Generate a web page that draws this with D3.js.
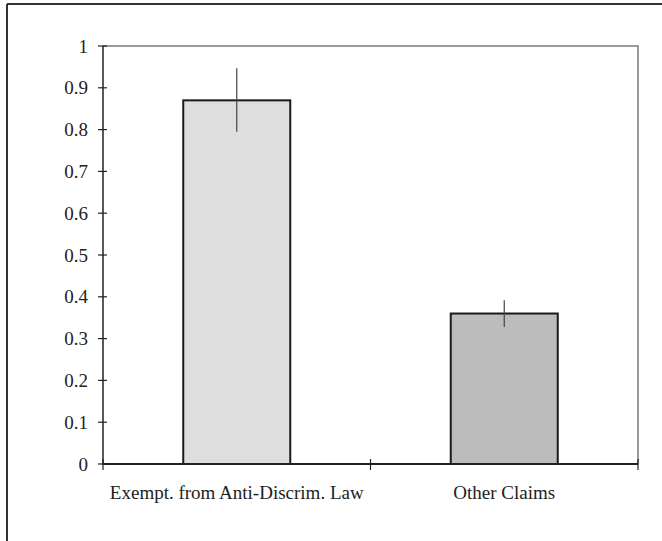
<!DOCTYPE html>
<html>
<head>
<meta charset="utf-8">
<script src="https://cdn.jsdelivr.net/npm/d3@7/dist/d3.min.js"></script>
<style>
  html, body { margin: 0; padding: 0; background: #fff; }
  svg { display: block; }
  text { font-family: "Liberation Serif", "DejaVu Serif", serif; fill: #222; }
</style>
</head>
<body>
<svg id="chart" width="662" height="541"></svg>
<script>
// Proportions by claim type, with error bar bounds
const categories = ["Exempt. from Anti-Discrim. Law", "Other Claims"];
const values = [0.87, 0.36];
const errLow = [0.795, 0.328];
const errHigh = [0.947, 0.392];
const fills = ["#dedede", "#bcbcbc"];
const yTicks = [0, 0.1, 0.2, 0.3, 0.4, 0.5, 0.6, 0.7, 0.8, 0.9, 1];
const yTickLabels = ["0", "0.1", "0.2", "0.3", "0.4", "0.5", "0.6", "0.7", "0.8", "0.9", "1"];

const svg = d3.select("#chart");
const margin = { left: 103, right: 24, top: 46, bottom: 77 };
const W = 662, H = 541;
const x0 = margin.left, x1 = W - margin.right;
const y0 = H - margin.bottom, y1 = margin.top;

// Outer frame (top and left edges)
svg.append("line").attr("x1", 7).attr("x2", W).attr("y1", 4).attr("y2", 4)
  .attr("stroke", "#333").attr("stroke-width", 2);
svg.append("line").attr("x1", 7).attr("x2", 7).attr("y1", 4).attr("y2", H)
  .attr("stroke", "#333").attr("stroke-width", 2);

const x = d3.scaleBand().domain(categories).range([x0, x1])
  .paddingInner(0.6).paddingOuter(0.3);
const y = d3.scaleLinear().domain([0, 1]).range([y0, y1]);

// Plot area border (top and right)
svg.append("path")
  .attr("d", `M${x0},${y1}H${x1}V${y0}`)
  .attr("fill", "none").attr("stroke", "#7a7a7a").attr("stroke-width", 1.5);

// Bars
const g = svg.append("g");
g.selectAll("rect.bar").data(categories).join("rect")
  .attr("class", "bar")
  .attr("x", d => x(d))
  .attr("width", x.bandwidth())
  .attr("y", (d, i) => y(values[i]))
  .attr("height", (d, i) => y(0) - y(values[i]))
  .attr("fill", (d, i) => fills[i])
  .attr("stroke", "#1a1a1a").attr("stroke-width", 2);

// Error bars
g.selectAll("line.err").data(categories).join("line")
  .attr("class", "err")
  .attr("x1", d => x(d) + x.bandwidth() / 2)
  .attr("x2", d => x(d) + x.bandwidth() / 2)
  .attr("y1", (d, i) => y(errHigh[i]))
  .attr("y2", (d, i) => y(errLow[i]))
  .attr("stroke", "#444").attr("stroke-width", 1.2);

// Y axis with crossing ticks
const yAxis = svg.append("g");
yAxis.append("line").attr("x1", x0).attr("x2", x0).attr("y1", y1).attr("y2", y0)
  .attr("stroke", "#222").attr("stroke-width", 1.5);
yAxis.selectAll("line.tick").data(yTicks).join("line")
  .attr("class", "tick")
  .attr("x1", x0 - 5).attr("x2", x0 + 4)
  .attr("y1", d => y(d)).attr("y2", d => y(d))
  .attr("stroke", "#222").attr("stroke-width", 1.2);
yAxis.selectAll("text").data(yTicks).join("text")
  .attr("x", x0 - 15).attr("y", d => y(d))
  .attr("dy", "0.35em").attr("text-anchor", "end")
  .attr("font-size", 19)
  .text((d, i) => yTickLabels[i]);

// X axis with crossing ticks at band boundaries
const xAxis = svg.append("g");
xAxis.append("line").attr("x1", x0).attr("x2", x1).attr("y1", y0).attr("y2", y0)
  .attr("stroke", "#222").attr("stroke-width", 2);
const bounds = [x0, (x0 + x1) / 2, x1];
xAxis.selectAll("line.tick").data(bounds).join("line")
  .attr("class", "tick")
  .attr("x1", d => d).attr("x2", d => d)
  .attr("y1", y0 - 5).attr("y2", y0 + 6)
  .attr("stroke", "#222").attr("stroke-width", 1.2);
xAxis.selectAll("text").data(categories).join("text")
  .attr("x", d => x(d) + x.bandwidth() / 2)
  .attr("y", y0 + 35)
  .attr("text-anchor", "middle")
  .attr("font-size", 19)
  .text(d => d);
</script>
</body>
</html>
